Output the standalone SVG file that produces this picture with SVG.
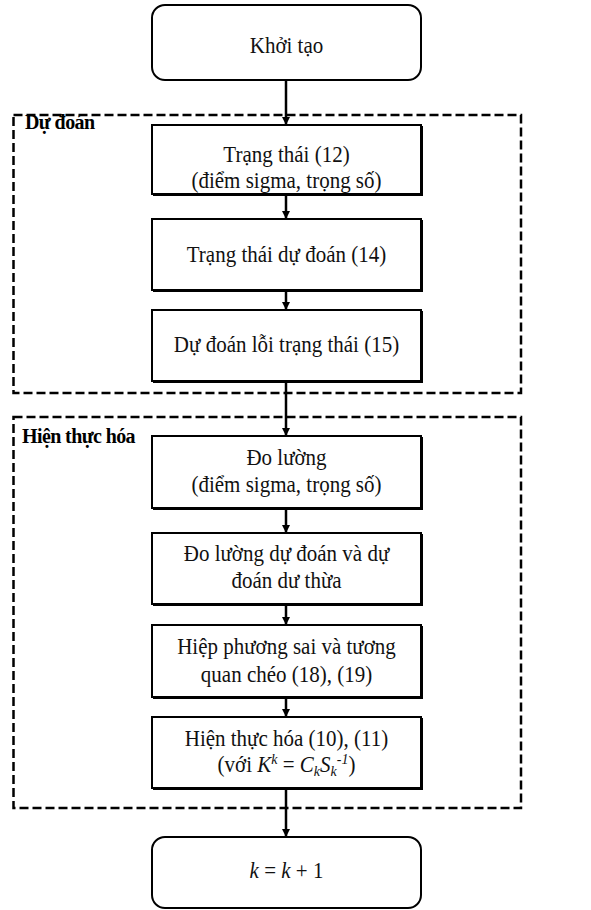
<svg xmlns="http://www.w3.org/2000/svg" width="591" height="910" viewBox="0 0 591 910">
  <style>
    .box { fill: #ffffff; stroke: #000000; stroke-width: 2; }
    .shadow { fill: none; stroke: #000000; stroke-width: 2; }
    .group { fill: none; stroke: #000000; stroke-width: 2.5; stroke-dasharray: 9 4; }
    text { font-family: 'Liberation Serif', 'DejaVu Serif', serif; }
    .t { font-size: 21px; fill: #111111; text-anchor: middle; }
    .lbl { font-size: 20px; font-weight: bold; fill: #000000; letter-spacing: -0.6px; }
    .it { font-style: italic; }
    .conn { stroke: #000000; stroke-width: 2.5; fill: none; marker-end: url(#arrow); }
  </style>
  <defs>
    <marker id="arrow" viewBox="0 0 8 8" refX="8" refY="4" markerWidth="3.2" markerHeight="3.2" orient="auto" markerUnits="strokeWidth">
      <path d="M0,0 L8,4 L0,8 Z" fill="#000000"/>
    </marker>
  </defs>
  <rect width="591" height="910" fill="#ffffff"/>

  <!-- grouping frames -->
  <g id="frame-du-doan">
    <rect class="group" x="13.5" y="115" width="507.5" height="278"/>
    <text class="lbl" transform="translate(25,129) scale(1,1.08)">Dự đoán</text>
  </g>
  <g id="frame-hien-thuc-hoa">
    <rect class="group" x="13.5" y="417" width="507.5" height="391"/>
    <text class="lbl" transform="translate(22,443) scale(1,1.08)">Hiện thực hóa</text>
  </g>

  <!-- connectors -->
  <g id="connectors">
    <line class="conn" x1="286" y1="80" x2="286" y2="125"/>
    <line class="conn" x1="286" y1="195" x2="286" y2="219"/>
    <line class="conn" x1="286" y1="291" x2="286" y2="310"/>
    <line class="conn" x1="286" y1="382" x2="286" y2="436"/>
    <line class="conn" x1="286" y1="509" x2="286" y2="533"/>
    <line class="conn" x1="286" y1="605" x2="286" y2="625"/>
    <line class="conn" x1="286" y1="698" x2="286" y2="717"/>
    <line class="conn" x1="286" y1="789" x2="286" y2="837"/>
  </g>

  <!-- nodes; label text is set slightly tall (scale 1 x 1.1 about the baseline) -->
  <g id="khoi-tao">
    <rect class="box" x="152" y="5" width="269" height="75" rx="13" ry="13"/>
    <text class="t" transform="translate(286.5,53) scale(1,1.1)">Khởi tạo</text>
  </g>

  <g id="trang-thai">
    <rect class="box" x="152" y="125" width="269" height="69"/>
    <path class="shadow" d="M153,195 H422 V126"/>
    <text class="t" transform="translate(286.5,162) scale(1,1.1)">Trạng thái (12)</text>
    <text class="t" transform="translate(286.5,188) scale(1,1.1)">(điểm sigma, trọng số)</text>
  </g>

  <g id="trang-thai-du-doan">
    <rect class="box" x="152" y="219" width="269" height="71"/>
    <path class="shadow" d="M153,291 H422 V220"/>
    <text class="t" transform="translate(286.5,262) scale(1,1.1)">Trạng thái dự đoán (14)</text>
  </g>

  <g id="du-doan-loi">
    <rect class="box" x="152" y="310" width="269" height="71"/>
    <path class="shadow" d="M153,382 H422 V311"/>
    <text class="t" transform="translate(286.5,352) scale(1,1.1)">Dự đoán lỗi trạng thái (15)</text>
  </g>

  <g id="do-luong">
    <rect class="box" x="152" y="436" width="269" height="72"/>
    <path class="shadow" d="M153,509 H422 V437"/>
    <text class="t" transform="translate(286.5,465) scale(1,1.1)">Đo lường</text>
    <text class="t" transform="translate(286.5,492) scale(1,1.1)">(điểm sigma, trọng số)</text>
  </g>

  <g id="do-luong-du-doan">
    <rect class="box" x="152" y="533" width="269" height="71"/>
    <path class="shadow" d="M153,605 H422 V534"/>
    <text class="t" transform="translate(286.5,561) scale(1,1.1)">Đo lường dự đoán và dự</text>
    <text class="t" transform="translate(286.5,588) scale(1,1.1)">đoán dư thừa</text>
  </g>

  <g id="hiep-phuong-sai">
    <rect class="box" x="152" y="625" width="269" height="72"/>
    <path class="shadow" d="M153,698 H422 V626"/>
    <text class="t" transform="translate(286.5,654) scale(1,1.1)">Hiệp phương sai và tương</text>
    <text class="t" transform="translate(286.5,682) scale(1,1.1)">quan chéo (18), (19)</text>
  </g>

  <g id="hien-thuc-hoa">
    <rect class="box" x="152" y="717" width="269" height="71"/>
    <path class="shadow" d="M153,789 H422 V718"/>
    <text class="t" transform="translate(286.5,746) scale(1,1.1)">Hiện thực hóa (10), (11)</text>
    <text class="t" transform="translate(286.5,772) scale(1,1.1)">(với <tspan class="it">K</tspan><tspan class="it" font-size="14" dy="-7">k</tspan><tspan dy="7"> = </tspan><tspan class="it">C</tspan><tspan class="it" font-size="14" dy="4">k</tspan><tspan class="it" dy="-4">S</tspan><tspan class="it" font-size="14" dy="4">k</tspan><tspan class="it" font-size="14" dy="-11">-1</tspan><tspan dy="7">)</tspan></text>
  </g>

  <g id="buoc-tiep">
    <rect class="box" x="152" y="837" width="269" height="71" rx="13" ry="13"/>
    <text class="t" transform="translate(286.5,878) scale(1,1.1)"><tspan class="it">k</tspan> = <tspan class="it">k</tspan> + 1</text>
  </g>
</svg>
